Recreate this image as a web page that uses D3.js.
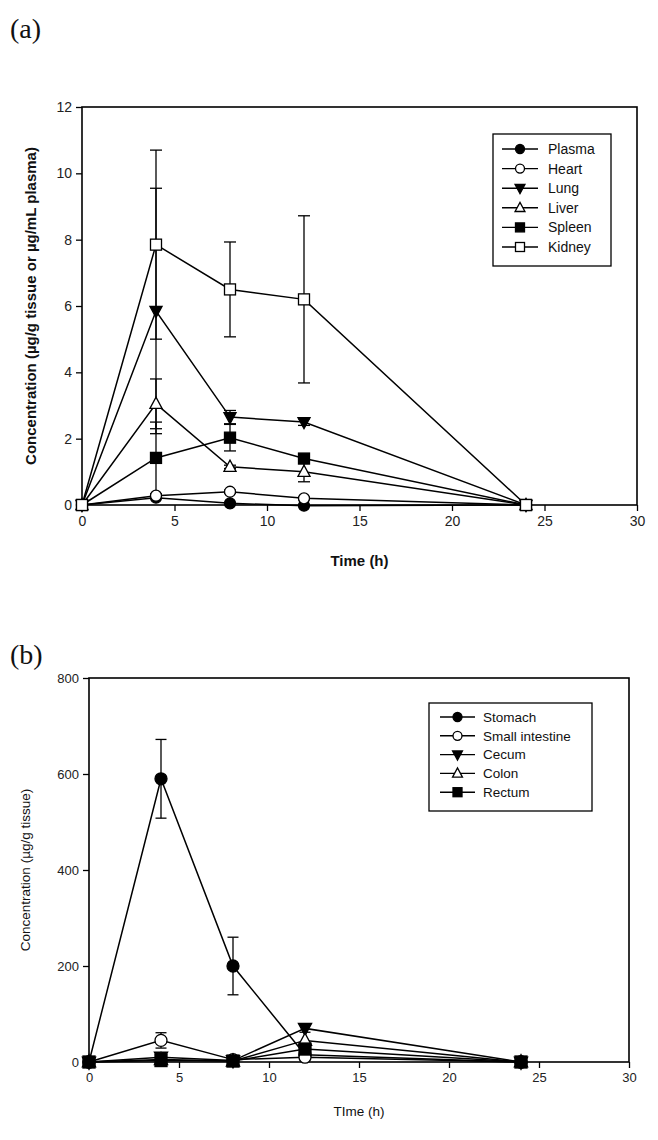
<!DOCTYPE html>
<html><head><meta charset="utf-8">
<script src="https://cdn.jsdelivr.net/npm/d3@7"></script>
<style>body{margin:0;background:#fff}svg{display:block}</style>
</head><body>
<svg id="c" width="658" height="1140"></svg>
<script>
// ---------- Data ----------
const times = [0, 4, 8, 12, 24];
const xTicks = [0, 5, 10, 15, 20, 25, 30];

// Panel (a)
const seriesA = ["Plasma", "Heart", "Lung", "Liver", "Spleen", "Kidney"];
const plasma = [0, 0.22, 0.05, -0.02, 0];
const heart  = [0, 0.28, 0.40, 0.20, 0];
const lung   = [0, 5.85, 2.65, 2.50, 0];
const liver  = [0, 3.05, 1.15, 1.00, 0];
const spleen = [0, 1.42, 2.03, 1.40, 0];
const kidney = [0, 7.85, 6.50, 6.20, 0];
const plasmaSD = [0, 0, 0, 0, 0];
const heartSD  = [0, 0.04, 0.05, 0.04, 0];
const lungSD   = [0, 3.70, 0.20, 0.10, 0];
const liverSD  = [0, 0.75, 0.05, 0.30, 0];
const spleenSD = [0, 1.08, 0.40, 0.10, 0];
const kidneySD = [0, 2.85, 1.43, 2.52, 0];
const yTicksA = [0, 2, 4, 6, 8, 10, 12];

// Panel (b)
const seriesB = ["Stomach", "Small intestine", "Cecum", "Colon", "Rectum"];
const stomach = [0, 590, 200, 15, 0];
const smallInt = [0, 45, 5, 10, 0];
const cecum   = [0, 10, 3, 70, 0];
const colon   = [0, 5, 2, 45, 0];
const rectum  = [0, 3, 2, 27, 0];
const stomachSD = [0, 82, 60, 0, 0];
const smallIntSD = [0, 16, 0, 0, 0];
const cecumSD = [0, 0, 0, 8, 0];
const colonSD = [0, 0, 0, 0, 0];
const rectumSD = [0, 0, 0, 3, 0];
const yTicksB = [0, 200, 400, 600, 800];

const markers = ["circleF", "circleO", "triDownF", "triUpO", "squareF", "squareO"];
const markersB = ["circleF", "circleO", "triDownF", "triUpO", "squareF"];

const svg = d3.select("#c");
const SANS = "'Liberation Sans', Arial, sans-serif";

function drawMarker(g, type, x, y, s) {
  const filled = type.endsWith("F");
  const fill = filled ? "#000" : "#fff";
  let el;
  if (type.startsWith("circle")) {
    el = g.append("circle").attr("cx", x).attr("cy", y).attr("r", s);
  } else if (type.startsWith("square")) {
    el = g.append("rect").attr("x", x - s).attr("y", y - s).attr("width", 2 * s).attr("height", 2 * s);
  } else if (type.startsWith("triDown")) {
    const h = s * 1.1;
    el = g.append("path").attr("d", `M${x - s * 1.1},${y - h * 0.75}L${x + s * 1.1},${y - h * 0.75}L${x},${y + h * 1.1}Z`);
  } else {
    const h = s * 1.1;
    el = g.append("path").attr("d", `M${x - s * 1.1},${y + h * 0.75}L${x + s * 1.1},${y + h * 0.75}L${x},${y - h * 1.1}Z`);
  }
  el.attr("fill", fill).attr("stroke", "#000").attr("stroke-width", 1.3);
}

function panel(cfg) {
  const x = d3.scaleLinear().domain([0, 30]).range([cfg.left, cfg.right]);
  const y = d3.scaleLinear().domain([0, cfg.ymax]).range([cfg.bottom, cfg.top]);
  const g = svg.append("g");

  // axes
  const xa = g.append("g").attr("transform", `translate(0,${cfg.bottom})`)
    .call(d3.axisBottom(x).tickValues(xTicks).tickSize(6).tickPadding(5).tickFormat(d3.format("d")));
  const ya = g.append("g").attr("transform", `translate(${cfg.left},0)`)
    .call(d3.axisLeft(y).tickValues(cfg.yTicks).tickSize(6).tickPadding(4).tickFormat(d3.format("d")));
  [xa, ya].forEach(a => {
    a.select(".domain").remove();
    a.selectAll(".tick line").attr("stroke", "#000").attr("stroke-width", 1.3);
    a.selectAll(".tick text").attr("font-family", SANS).attr("font-size", cfg.tickFont).attr("fill", "#222");
  });
  // frame
  g.append("rect").attr("x", cfg.left).attr("y", cfg.top)
    .attr("width", cfg.right - cfg.left).attr("height", cfg.bottom - cfg.top)
    .attr("fill", "none").attr("stroke", "#000").attr("stroke-width", 1.6);

  const line = d3.line().x((d, i) => x(times[i])).y(d => y(d));
  // lines
  cfg.data.forEach((vals) => {
    g.append("path").datum(vals).attr("d", line).attr("fill", "none")
      .attr("stroke", "#000").attr("stroke-width", 1.5);
  });
  // error bars
  cfg.data.forEach((vals, k) => {
    const sd = cfg.sd[k];
    vals.forEach((v, i) => {
      if (!sd[i]) return;
      const xx = x(times[i]);
      const y1 = y(v + sd[i]), y0 = y(v - sd[i]);
      g.append("line").attr("x1", xx).attr("x2", xx).attr("y1", y1).attr("y2", y0)
        .attr("stroke", "#000").attr("stroke-width", 1.3);
      [y1, y0].forEach(yy => g.append("line").attr("x1", xx - cfg.cap).attr("x2", xx + cfg.cap)
        .attr("y1", yy).attr("y2", yy).attr("stroke", "#000").attr("stroke-width", 1.3));
    });
  });
  // markers
  cfg.data.forEach((vals, k) => {
    vals.forEach((v, i) => drawMarker(g, cfg.markers[k], x(times[i]), y(v), cfg.ms));
  });

  // legend
  const L = cfg.legend;
  g.append("rect").attr("x", L.x0).attr("y", L.y0).attr("width", L.x1 - L.x0).attr("height", L.y1 - L.y0)
    .attr("fill", "#fff").attr("stroke", "#000").attr("stroke-width", 1.3);
  cfg.names.forEach((n, k) => {
    const yy = L.firstY + k * L.step;
    g.append("line").attr("x1", L.lx0).attr("x2", L.lx1).attr("y1", yy).attr("y2", yy)
      .attr("stroke", "#000").attr("stroke-width", 1.4);
    drawMarker(g, cfg.markers[k], (L.lx0 + L.lx1) / 2, yy, L.ms);
    g.append("text").attr("x", L.tx).attr("y", yy).attr("dy", "0.35em")
      .attr("font-family", SANS).attr("font-size", L.font).attr("fill", "#111").text(n);
  });

  // titles
  g.append("text").attr("x", (cfg.left + cfg.right) / 2).attr("y", cfg.xTitleY).attr("text-anchor", "middle")
    .attr("font-family", SANS).attr("font-size", cfg.titleFont).attr("font-weight", cfg.titleWeight)
    .attr("fill", "#111").text(cfg.xTitle);
  g.append("text").attr("transform", `translate(${cfg.yTitleX},${cfg.yTitleCY}) rotate(-90)`)
    .attr("text-anchor", "middle").attr("font-family", SANS).attr("font-size", cfg.titleFont)
    .attr("font-weight", cfg.titleWeight).attr("fill", "#111").text(cfg.yTitle);
  // panel label
  svg.append("text").attr("x", 10).attr("y", cfg.labelY).attr("font-family", "'Liberation Serif', 'Times New Roman', serif")
    .attr("font-size", 28).attr("fill", "#111").text(cfg.label);
}

panel({
  left: 82, right: 637, top: 107, bottom: 505, ymax: 12, yTicks: yTicksA,
  data: [plasma, heart, lung, liver, spleen, kidney],
  sd: [plasmaSD, heartSD, lungSD, liverSD, spleenSD, kidneySD],
  names: seriesA, markers: markers, ms: 5.5, cap: 6, tickFont: 14,
  legend: {x0: 493, x1: 611, y0: 134, y1: 266, firstY: 149, step: 19.6, lx0: 502, lx1: 538, tx: 548, ms: 4.5, font: 14},
  xTitle: "Time (h)", xTitleY: 566, yTitle: "Concentration (\u00b5g/g tissue or \u00b5g/mL plasma)",
  yTitleX: 36, yTitleCY: 306, titleFont: 15, titleWeight: "bold",
  label: "(a)", labelY: 38
});

panel({
  left: 89, right: 629, top: 678, bottom: 1062, ymax: 800, yTicks: yTicksB,
  data: [stomach, smallInt, cecum, colon, rectum],
  sd: [stomachSD, smallIntSD, cecumSD, colonSD, rectumSD],
  names: seriesB, markers: markersB, ms: 6, cap: 5.5, tickFont: 13,
  legend: {x0: 429, x1: 592, y0: 703, y1: 811, firstY: 717, step: 18.8, lx0: 440, lx1: 475, tx: 483, ms: 4.5, font: 13.5},
  xTitle: "TIme (h)", xTitleY: 1116, yTitle: "Concentration (\u00b5g/g tissue)",
  yTitleX: 30, yTitleCY: 870, titleFont: 13.5, titleWeight: "normal",
  label: "(b)", labelY: 664
});
</script>
</body></html>
